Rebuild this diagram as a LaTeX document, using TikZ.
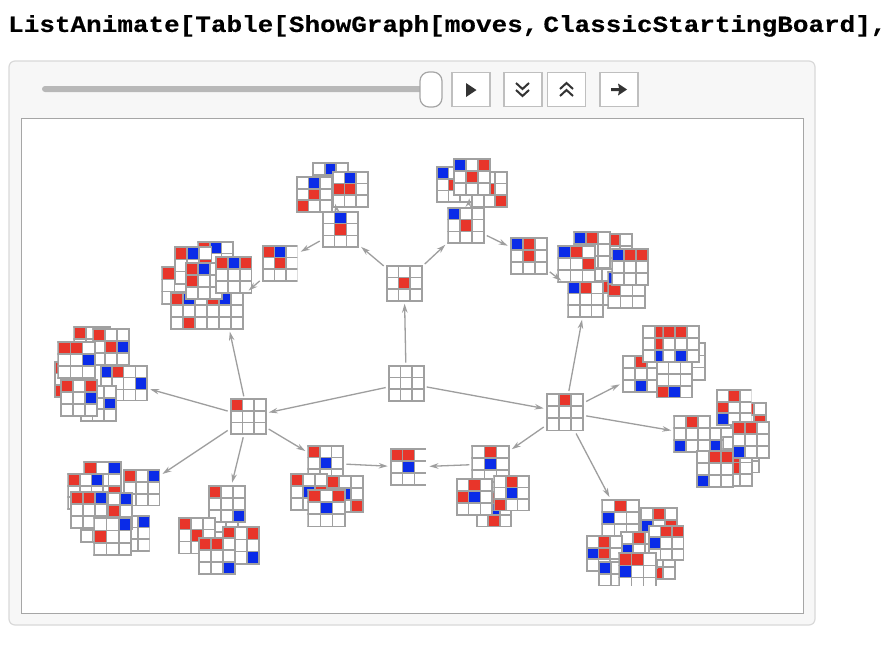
\documentclass[tikz,border=0pt]{standalone}
\usepackage{fontspec}
\usepackage{xcolor}
\usetikzlibrary{arrows.meta, positioning, calc}
\newfontfamily\codefont[FakeStretch=1.13,BoldFeatures={FakeBold=0.4}]{Liberation Mono}
\definecolor{boardgray}{HTML}{A0A0A0}
\definecolor{piecered}{HTML}{E8352A}
\definecolor{pieceblue}{HTML}{0A2BE8}

% [visible corner]{name}{x}{y}{size}{red cells}{blue cells}
\newcommand{\board}[7][(45,45)]{%
  \begin{scope}[shift={(#3,#4)}]
    \clip (-1,-1) rectangle #1;
    \pgfmathsetmacro{\cell}{#5/3}
    \node[boardbase, minimum size=#5pt] (#2) at (#5/2,#5/2) {};
    \foreach \i/\j in {#6} {\fill[piecered] (\i*\cell,\j*\cell) rectangle +(\cell,\cell);}
    \foreach \i/\j in {#7} {\fill[pieceblue] (\i*\cell,\j*\cell) rectangle +(\cell,\cell);}
    \foreach \k in {0,1,2,3} {
      \draw[boardline] (\k*\cell,0) -- (\k*\cell,#5);
      \draw[boardline] (0,\k*\cell) -- (#5,\k*\cell);
    }
  \end{scope}}

\begin{document}
\begin{tikzpicture}[
    x=1pt, y=-1pt,
    boardbase/.style={rectangle, fill=white, inner sep=0pt, outer sep=3pt},
    boardline/.style={draw=boardgray, line width=1.7pt, line cap=rect},
    move/.style={draw=black!38, line width=1.3pt, -{Stealth[length=9pt, width=5.5pt, fill=black!30]}},
    ctrl/.style={rectangle, draw=black!25, line width=1.4pt, fill=white, minimum width=38pt, minimum height=34pt, inner sep=0pt},
    icon/.style={draw=black!80, line width=2pt}
]
\useasboundingbox (0,0) rectangle (894,670);

% Input line
\node[anchor=west, inner sep=0pt, font=\codefont\bfseries\fontsize{23}{23}\selectfont] (code) at (8,26)
  {ListAnimate[Table[ShowGraph[moves,\hspace{5pt}ClassicStartingBoard],};

% Panel
\node[rectangle, rounded corners=6pt, draw=black!15, line width=1.2pt, fill=black!3, minimum width=806pt, minimum height=564pt] (panel) at (412,343) {};
\node[rectangle, draw=black!35, line width=0.8pt, fill=white, minimum width=782pt, minimum height=495pt] (frame) at (412,365.5) {};

% Controls
\node[rectangle, rounded corners=3pt, fill=black!28, minimum width=382pt, minimum height=6pt, inner sep=0pt] (track) at (233,89) {};
\node[rectangle, rounded corners=9pt, draw=black!35, line width=1.2pt, fill=white, minimum width=22pt, minimum height=35pt] (thumb) at (431,89.5) {};
\node[ctrl] (play) at (471,89.5) {};
\node[ctrl] (down) at (523,89.5) {};
\node[ctrl] (up) at (566.5,89.5) {};
\node[ctrl] (step1) at (619,89.5) {};
\fill[black!80] (466,83) -- (476.5,90) -- (466,97) -- cycle;
\draw[icon] (516,83) -- (522.5,89) -- (529,83);
\draw[icon] (516,90) -- (522.5,96) -- (529,90);
\draw[icon] (560,89) -- (566.5,83) -- (573,89);
\draw[icon] (560,96) -- (566.5,90) -- (573,96);
\fill[black!80] (611,88) -- (619,88) -- (618,83.5) -- (627,89.5) -- (618,95.5) -- (619,91) -- (611,91) -- cycle;

% Upper left group
\board{B1}{313}{163}{35}{}{1/0}
\board{B2}{296.7}{177}{35}{1/1,0/2}{1/0}
\board{B3}{332.7}{171.7}{35}{0/1,1/1}{1/0}
\board{A1}{322.7}{211.7}{35.5}{1/1}{1/0}
\board{F1}{198.3}{241.7}{35}{0/0}{1/0}
\board{F2}{162.3}{267.3}{36.5}{0/0}{}
\board{F3}{207.3}{292.7}{36}{0/0}{1/0}
\board{F4}{170.7}{292.7}{36.5}{0/0,1/2}{1/0}
\board{F5}{175}{247.3}{36.5}{0/0,2/1}{1/0}
\board{F6}{186}{263.3}{36}{0/0,0/1}{1/0}
\board{F7}{216}{257.3}{35.5}{0/0,2/0}{1/0}
\board[(34.6,45)]{F8}{262.7}{245.7}{35}{0/0,1/1}{1/0}

% Upper right group
\board{C1}{436.7}{167.3}{35}{1/1}{0/0}
\board{C2}{472}{171.7}{35}{2/2,1/1}{}
\board{C3}{454}{159.3}{36}{2/0,1/1}{0/0}
\board{A2}{448.3}{207.7}{35.5}{1/1}{0/0}
\board{D}{510.7}{238}{36}{1/0,1/1}{0/0}
\board{E1}{596}{234}{36}{1/0}{}
\board{E0}{590}{269}{36}{1/1}{}
\board{E2}{574.3}{231.7}{36}{1/0}{0/0}
\board{E3}{608.3}{271.7}{36.5}{0/1}{0/0}
\board{E4}{568.3}{281.7}{35}{1/0}{0/0}
\board{E5}{558.3}{245.7}{36.5}{1/0,2/1}{0/0}
\board{E7}{612.3}{249.3}{35.5}{1/0,2/0}{0/0}

% Middle
\board{T}{386.7}{265.7}{35}{1/1}{}
\board{R}{388.7}{365.7}{35}{}{}
\board{W}{230.7}{399.3}{35}{0/0}{}
\board{X}{546.7}{394}{36.5}{1/0}{}

% Left group
\board{G0}{74.3}{327.3}{36}{0/0}{}
\board{G1}{93.3}{329.3}{36}{0/0,1/1}{2/1}
\board{G3}{55}{361.7}{35}{0/0,0/2}{}
\board{G2}{58.3}{341.7}{36.5}{0/0,1/0}{2/1}
\board[(45,34.6)]{G4b}{101}{365.7}{35}{}{0/0}
\board[(45,35.1)]{G4a}{111.7}{365.7}{35.5}{0/0}{2/1}
\board{G6}{80.7}{386}{35}{}{2/1}
\board{G5}{60.7}{380}{36}{0/0,2/0}{2/1}

% Lower left group
\board{H1}{84.3}{461.7}{36.5}{0/0,2/2}{2/0}
\board{H2}{68.3}{474}{35}{0/0}{2/0}
\board{H3}{124}{470}{35.5}{0/0}{2/0}
\board{H9}{80.7}{506}{35.7}{}{}
\board[(34.6,45)]{H8}{115}{515.7}{35}{}{2/0}
\board{H5}{95.7}{493.3}{36}{1/1}{2/0}
\board{H4}{70.7}{491.7}{36}{0/0,1/0}{2/0}
\board{H6}{94.3}{518.3}{37}{0/1}{2/0}

% Bottom left group
\board{I0}{203}{520}{35}{}{}
\board{I1}{209}{485.7}{36}{0/0}{2/2}
\board{I2}{179}{517.7}{35.7}{0/0,1/1}{}
\board{I3}{222.7}{527.3}{36.5}{0/0,2/0}{2/2}
\board{I4}{199}{538.3}{36}{0/0,1/0}{2/2}

% Bottom middle
\board{J1}{308.3}{445.7}{35}{0/0}{1/1}
\board{J2}{290.7}{474.3}{36}{0/0,2/1}{1/1}
\board{J3}{327.3}{475.7}{36}{0/0,2/2}{1/1}
\board{J4}{308.3}{490}{36.5}{0/0,2/0}{1/1}
\board[(35.2,45)]{J5}{390.7}{449.3}{35.7}{0/0,1/0}{1/1}
\board{K1}{472.3}{445.7}{36.5}{1/0}{1/1}
\board{K3}{476.7}{492}{34.5}{1/0,1/2}{1/1}
\board{K2}{456.7}{479.3}{35.5}{1/0,0/1}{1/1}
\board[(45,34.6)]{K4}{494.3}{475.7}{35}{1/0,0/2}{1/1}

% Right group
\board{L1}{668.3}{343.3}{36.5}{0/1}{1/2}
\board{L2}{622.7}{355.7}{36}{1/0}{1/2}
\board{L3}{656.7}{362}{35.5}{0/2}{1/2}
\board{L4a}{642.7}{325.7}{36}{1/0,1/1}{1/2}
\board{L4b}{663.3}{325.7}{36}{0/0,1/0}{1/2}

% Far right group
\board{M2}{730.7}{403.3}{35}{1/0,2/1}{}
\board[(34.6,45)]{M1}{716.7}{390}{35}{1/0,0/1}{0/2}
\board{M5a}{709}{427.7}{36}{}{0/1}
\board[(45,35)]{M5b}{723.3}{437.3}{35.5}{}{}
\board{M3}{674.3}{416}{36}{1/0}{0/2}
\board{M4b}{716.7}{450.7}{35}{1/0,1/1}{}
\board{M4a}{696.7}{450.7}{36}{1/0,2/0}{0/2}
\board{M6}{732.7}{421.7}{36.5}{0/0,1/0}{0/2}

% Bottom right group
\board{N1}{602.3}{500}{36.5}{1/0}{0/1}
\board{N2}{641}{508.3}{36}{1/0,2/1}{0/1}
\board{N6}{640}{544}{35}{1/2}{}
\board{N5}{620.7}{531.7}{36}{1/0}{0/1}
\board{N3}{649}{525.7}{34.5}{1/0,2/0}{0/1}
\board{N4}{586.7}{536}{35}{1/0,1/1}{0/1}
\board[(45,24)]{N7}{599}{561.7}{36}{}{0/0}
\board[(45,32.4)]{N8}{619.3}{553.3}{36.5}{0/0,1/0}{0/1}

% Moves
\draw[move] (R) -- (T);
\draw[move] (R) -- (W);
\draw[move] (R) -- (X);
\draw[move] (T) -- (A1);
\draw[move] (T) -- (A2);
\draw[move] (A1) -- (F8);
\draw[move, shorten >=3pt] (F8) -- (F3);
\draw[move, shorten >=3pt] (A1) -- (B1);
\draw[move] (A2) -- (C3);
\draw[move] (A2) -- (D);
\draw[move, shorten >=5pt] (D) -- (E4);
\draw[move] (W) -- (F3);
\draw[move] (W) -- (G4a);
\draw[move] (W) -- (H3);
\draw[move] (W) -- (I1);
\draw[move] (W) -- (J1);
\draw[move] (J1) -- (J5);
\draw[move] (K1) -- (J5);
\draw[move] (X) -- (K1);
\draw[move] (X) -- (E4);
\draw[move] (X) -- (L2);
\draw[move] (X) -- (M3);
\draw[move] (X) -- (N1);

\end{tikzpicture}
\end{document}
